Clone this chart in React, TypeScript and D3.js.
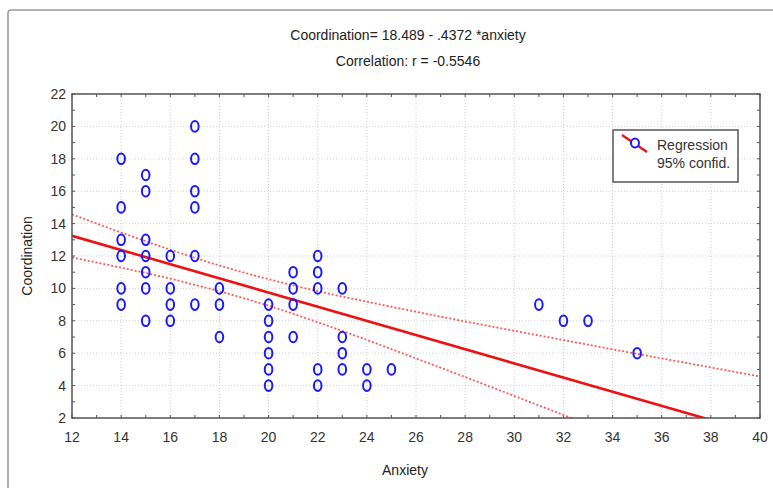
import React from "react";
import * as d3 from "d3";

const anxiety = [14,14,14,14,14,14, 15,15,15,15,15,15,15, 16,16,16,16, 17,17,17,17,17,17, 18,18,18, 20,20,20,20,20,20, 21,21,21,21, 22,22,22,22,22, 23,23,23,23, 24,24, 25, 31, 32, 33, 35];
const coordination = [18,15,13,12,10,9, 17,16,13,12,11,10,8, 12,10,9,8, 20,18,16,15,12,9, 10,9,7, 9,8,7,6,5,4, 11,10,9,7, 12,11,10,5,4, 10,7,6,5, 5,4, 5, 9, 8, 8, 6];
const xTicks = [12,14,16,18,20,22,24,26,28,30,32,34,36,38,40];
const yTicks = [2,4,6,8,10,12,14,16,18,20,22];
const intercept = 18.489;
const slope = -0.4372;
// 95% confidence band
const bandX = [12,14,16,18,20,22,24,26,28,30,32,34,36,38,40];
const upperBand = [14.57,13.45,12.39,11.41,10.57,9.83,9.18,8.56,7.96,7.38,6.81,6.24,5.68,5.12,4.56];
const lowerBand = [11.91,11.28,10.60,9.82,8.93,7.91,6.82,5.68,4.53,3.36,2.19,1.01,-0.18,-1.37,-2.56];
const titleLine1 = "Coordination= 18.489 - .4372 *anxiety";
const titleLine2 = "Correlation: r = -0.5546";
const legendLabels = ["Regression", "95% confid."];

const W = 773, H = 488;
const FONT = "'Liberation Sans Narrow', 'Arial Narrow', 'Liberation Sans', Arial, sans-serif";

export default function App() {
  const x = d3.scaleLinear().domain([12, 40]).range([72, 760]);
  const y = d3.scaleLinear().domain([2, 22]).range([418, 94]);
  const line = d3.line<[number, number]>().x((d) => x(d[0])).y((d) => y(d[1]));
  const bandLine = d3.line<[number, number]>().x((d) => x(d[0])).y((d) => y(d[1])).curve(d3.curveMonotoneX);
  const main: [number, number][] = [[12, intercept + slope * 12], [40, intercept + slope * 40]];
  const upper = bandX.map((v, i) => [v, upperBand[i]] as [number, number]);
  const lower = bandX.map((v, i) => [v, lowerBand[i]] as [number, number]);
  const minor = d3.range(12, 40.01, 1);
  const minorY = d3.range(2, 22.01, 1);
  return (
    <svg width={W} height={H} style={{ position: "absolute", left: 0, top: 0 }} fontFamily={FONT}>
      <defs>
        <clipPath id="plotClip">
          <rect x={x(12)} y={y(22)} width={x(40) - x(12)} height={y(2) - y(22)} />
        </clipPath>
      </defs>
      <rect x={0} y={0} width={W} height={H} fill="#fff" />
      <rect x={8} y={10} width={W + 10} height={H + 10} rx={3} fill="none" stroke="#9a9a9a" strokeWidth={1.5} />
      <text x={408} y={40} textAnchor="middle" fontSize={14} fill="#222">{titleLine1}</text>
      <text x={408} y={66} textAnchor="middle" fontSize={14} fill="#222">{titleLine2}</text>
      <g>
        {xTicks.map((v) => (
          <line key={"gx" + v} x1={x(v)} x2={x(v)} y1={y(22)} y2={y(2)} stroke="#d0d0d0" strokeDasharray="1,2" />
        ))}
        {yTicks.map((v) => (
          <line key={"gy" + v} x1={x(12)} x2={x(40)} y1={y(v)} y2={y(v)} stroke="#d0d0d0" strokeDasharray="1,2" />
        ))}
      </g>
      <g stroke="#555" strokeWidth={1}>
        {minor.map((v) => (
          <g key={"tx" + v}>
            <line x1={x(v)} x2={x(v)} y1={y(2)} y2={y(2) - 3} />
            <line x1={x(v)} x2={x(v)} y1={y(22)} y2={y(22) + 3} />
          </g>
        ))}
        {minorY.map((v) => (
          <g key={"ty" + v}>
            <line x1={x(12)} x2={x(12) + 3} y1={y(v)} y2={y(v)} />
            <line x1={x(40)} x2={x(40) - 3} y1={y(v)} y2={y(v)} />
          </g>
        ))}
      </g>
      <g fontSize={14} fill="#333">
        {xTicks.map((v) => (
          <text key={"lx" + v} x={x(v)} y={442} textAnchor="middle">{v}</text>
        ))}
        {yTicks.map((v) => (
          <text key={"ly" + v} x={66} y={y(v) + 5} textAnchor="end">{v}</text>
        ))}
      </g>
      <text x={405} y={475} textAnchor="middle" fontSize={14} fill="#222">Anxiety</text>
      <text transform={`translate(32,${256}) rotate(-90)`} textAnchor="middle" fontSize={14} fill="#222">Coordination</text>
      <g clipPath="url(#plotClip)">
        <path d={bandLine(upper) || ""} fill="none" stroke="#ff5a5a" strokeWidth={1.8} strokeDasharray="2,2" />
        <path d={bandLine(lower) || ""} fill="none" stroke="#ff5a5a" strokeWidth={1.8} strokeDasharray="2,2" />
        <path d={line(main) || ""} fill="none" stroke="#ee1111" strokeWidth={2.6} />
      </g>
      <rect x={x(12)} y={y(22)} width={x(40) - x(12)} height={y(2) - y(22)} fill="none" stroke="#555" strokeWidth={1.5} />
      <g fill="none" stroke="#1a1aff" strokeWidth={2}>
        {anxiety.map((v, i) => (
          <ellipse key={"p" + i} cx={x(v)} cy={y(coordination[i])} rx={3.8} ry={5.3} />
        ))}
      </g>
      <g>
        <rect x={613} y={130} width={125} height={52} fill="#fff" stroke="#555" strokeWidth={1.5} />
        <line x1={622} y1={135} x2={647} y2={152} stroke="#ee1111" strokeWidth={2.2} />
        <ellipse cx={635} cy={143} rx={4} ry={4.5} fill="#fff" stroke="#1a1aff" strokeWidth={2} />
        <text x={657} y={150} fontSize={14} fill="#333">{legendLabels[0]}</text>
        <text x={657} y={168} fontSize={14} fill="#333">{legendLabels[1]}</text>
      </g>
    </svg>
  );
}
